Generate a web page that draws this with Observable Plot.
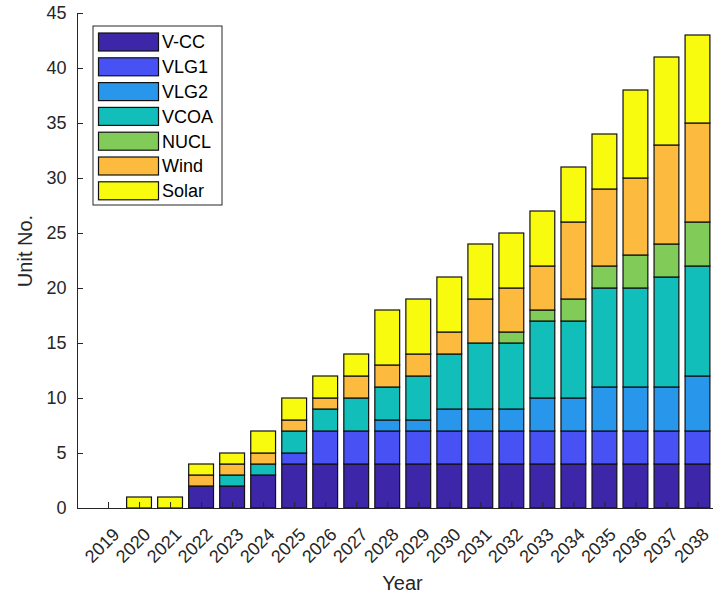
<!DOCTYPE html>
<html>
<head>
<meta charset="utf-8">
<script src="https://cdn.jsdelivr.net/npm/d3@7"></script>
<script src="https://cdn.jsdelivr.net/npm/@observablehq/plot@0.6"></script>
<style>
  html, body { margin: 0; padding: 0; background: #fff; }
  #chart { width: 716px; height: 594px; }
  #chart svg { font-family: "Liberation Sans", Arial, Helvetica, sans-serif; }
</style>
</head>
<body>
<div id="chart"></div>
<script>
// Installed generating units per year, by technology
const years = [2019, 2020, 2021, 2022, 2023, 2024, 2025, 2026, 2027, 2028,
               2029, 2030, 2031, 2032, 2033, 2034, 2035, 2036, 2037, 2038];
const seriesNames = ["V-CC", "VLG1", "VLG2", "VCOA", "NUCL", "Wind", "Solar"];
const seriesColors = ["#3e26a8", "#4852f4", "#2796eb", "#12beb9", "#81cc59", "#fcbb3e", "#f9fb0e"];

const vcc   = [0, 0, 0, 2, 2, 3, 4, 4, 4, 4, 4, 4, 4, 4, 4, 4, 4, 4, 4, 4];
const vlg1  = [0, 0, 0, 0, 0, 0, 1, 3, 3, 3, 3, 3, 3, 3, 3, 3, 3, 3, 3, 3];
const vlg2  = [0, 0, 0, 0, 0, 0, 0, 0, 0, 1, 1, 2, 2, 2, 3, 3, 4, 4, 4, 5];
const vcoa  = [0, 0, 0, 0, 1, 1, 2, 2, 3, 3, 4, 5, 6, 6, 7, 7, 9, 9, 10, 10];
const nucl  = [0, 0, 0, 0, 0, 0, 0, 0, 0, 0, 0, 0, 0, 1, 1, 2, 2, 3, 3, 4];
const wind  = [0, 0, 0, 1, 1, 1, 1, 1, 2, 2, 2, 2, 4, 4, 4, 7, 7, 7, 9, 9];
const solar = [0, 1, 1, 1, 1, 2, 2, 2, 2, 5, 5, 5, 5, 5, 5, 5, 5, 8, 8, 8];

const yTicks = [0, 5, 10, 15, 20, 25, 30, 35, 40, 45];

// Stack the series bottom-up for each year
const seriesValues = [vcc, vlg1, vlg2, vcoa, nucl, wind, solar];
const rows = [];
years.forEach((year, i) => {
  let base = 0;
  seriesNames.forEach((name, s) => {
    const v = seriesValues[s][i];
    if (v > 0) rows.push({year, series: name, value: v, y1: base, y2: base + v});
    base += v;
  });
});

const halfBar = 0.4;
const xMin = 2018, xMax = 2038.5;
const ink = "#262626";
const font = "\"Liberation Sans\", Arial, Helvetica, sans-serif";

const svg = Plot.plot({
  width: 716,
  height: 594,
  marginLeft: 77,
  marginRight: 3,
  marginTop: 13,
  marginBottom: 86,
  style: {fontFamily: font, background: "#fff", overflow: "visible"},
  x: {type: "linear", domain: [xMin, xMax], axis: null},
  y: {domain: [0, 45], axis: null},
  color: {domain: seriesNames, range: seriesColors},
  marks: [
    Plot.rect(rows, {
      x1: d => d.year - halfBar,
      x2: d => d.year + halfBar,
      y1: "y1",
      y2: "y2",
      fill: "series",
      stroke: "#111",
      strokeWidth: 1.2
    }),
    // axis lines (left and bottom)
    Plot.ruleX([xMin], {stroke: ink, strokeWidth: 1}),
    Plot.ruleY([0], {stroke: ink, strokeWidth: 1}),
    // inward tick marks
    Plot.ruleX(years, {x: d => d, y1: () => 0, y2: () => 0, insetTop: -6, stroke: ink}),
    Plot.ruleY(yTicks, {y: d => d, x1: () => xMin, x2: () => xMin, insetRight: -6, stroke: ink}),
    // tick labels
    Plot.text(yTicks, {
      y: d => d, x: () => xMin, text: d => String(d),
      textAnchor: "end", dx: -11, fontSize: 18, fill: ink
    }),
    Plot.text(years, {
      x: d => d, y: () => 0, text: d => String(d),
      rotate: -45, textAnchor: "end", dx: 8, dy: 23, fontSize: 18, fill: ink
    }),
    // axis titles
    Plot.text(["Year"], {
      frameAnchor: "bottom", text: d => d, textAnchor: "middle", lineAnchor: "middle",
      dx: 7, dy: 75, fontSize: 20, fill: ink
    }),
    Plot.text(["Unit No."], {
      frameAnchor: "left", text: d => d, rotate: -90, textAnchor: "middle", lineAnchor: "middle",
      dx: -52, dy: -10, fontSize: 20, fill: ink
    })
  ]
});

// Boxed legend in the upper-left corner of the plot area
const lg = d3.select(svg).append("g")
  .attr("font-family", font)
  .attr("font-size", 18)
  .attr("text-anchor", "start");
lg.append("rect")
  .attr("x", 93).attr("y", 26).attr("width", 129).attr("height", 179)
  .attr("fill", "#fff").attr("stroke", ink).attr("stroke-width", 1);
seriesNames.forEach((name, i) => {
  const y = 33 + i * 24.8;
  lg.append("rect")
    .attr("x", 98.5).attr("y", y).attr("width", 60).attr("height", 18)
    .attr("fill", seriesColors[i]).attr("stroke", "#111").attr("stroke-width", 1.2);
  lg.append("text")
    .attr("x", 162).attr("y", y + 9).attr("dy", "0.35em")
    .attr("text-anchor", "start")
    .attr("fill", "#000").text(name);
});

document.getElementById("chart").appendChild(svg);
</script>
</body>
</html>
